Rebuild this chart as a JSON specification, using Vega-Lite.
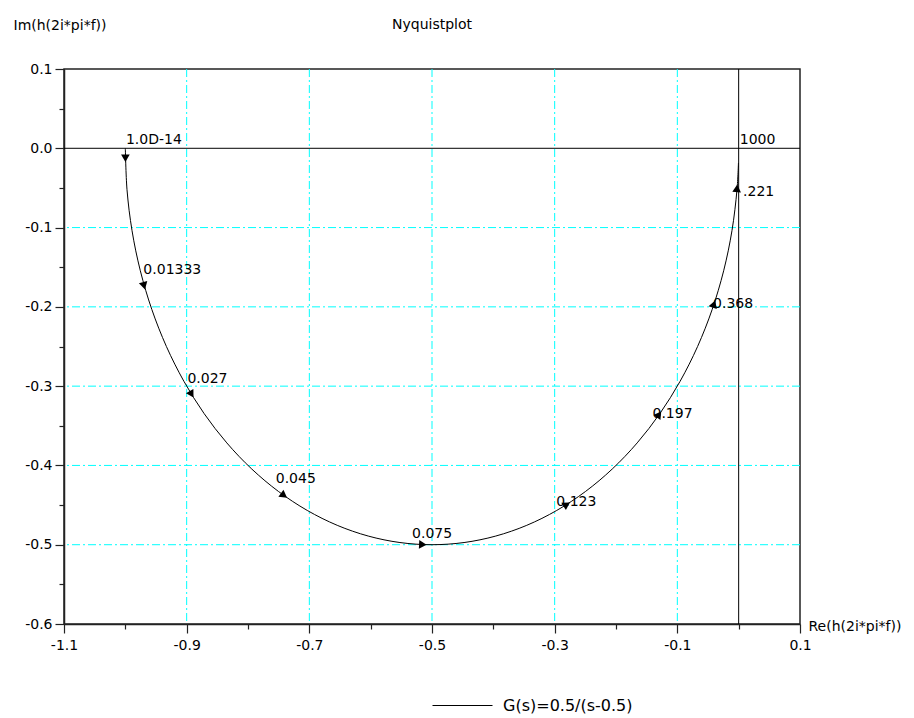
{
  "$schema": "https://vega.github.io/schema/vega-lite/v6.json",
  "width": 736,
  "height": 555,
  "autosize": "none",
  "padding": {"left": 64, "top": 69, "right": 114, "bottom": 94},
  "background": "white",
  "config": {
    "view": {"stroke": "#222222", "strokeWidth": 1.5},
    "font": "DejaVu Sans"
  },
  "title": {
    "text": "Nyquistplot",
    "anchor": "middle",
    "font": "DejaVu Sans",
    "fontSize": 14,
    "fontWeight": "normal",
    "color": "black",
    "baseline": "alphabetic",
    "offset": 0,
    "dy": 25
  },
  "datasets": {
    "curve": [
      {"t": 0, "re": -1.0, "im": 0.0},
      {"t": 6, "re": -0.99726, "im": -0.05226},
      {"t": 12, "re": -0.98907, "im": -0.10396},
      {"t": 18, "re": -0.97553, "im": -0.15451},
      {"t": 24, "re": -0.95677, "im": -0.20337},
      {"t": 30, "re": -0.93301, "im": -0.25},
      {"t": 36, "re": -0.90451, "im": -0.29389},
      {"t": 42, "re": -0.87157, "im": -0.33457},
      {"t": 48, "re": -0.83457, "im": -0.37157},
      {"t": 54, "re": -0.79389, "im": -0.40451},
      {"t": 60, "re": -0.75, "im": -0.43301},
      {"t": 66, "re": -0.70337, "im": -0.45677},
      {"t": 72, "re": -0.65451, "im": -0.47553},
      {"t": 78, "re": -0.60396, "im": -0.48907},
      {"t": 84, "re": -0.55226, "im": -0.49726},
      {"t": 90, "re": -0.5, "im": -0.5},
      {"t": 96, "re": -0.44774, "im": -0.49726},
      {"t": 102, "re": -0.39604, "im": -0.48907},
      {"t": 108, "re": -0.34549, "im": -0.47553},
      {"t": 114, "re": -0.29663, "im": -0.45677},
      {"t": 120, "re": -0.25, "im": -0.43301},
      {"t": 126, "re": -0.20611, "im": -0.40451},
      {"t": 132, "re": -0.16543, "im": -0.37157},
      {"t": 138, "re": -0.12843, "im": -0.33457},
      {"t": 144, "re": -0.09549, "im": -0.29389},
      {"t": 150, "re": -0.06699, "im": -0.25},
      {"t": 156, "re": -0.04323, "im": -0.20337},
      {"t": 162, "re": -0.02447, "im": -0.15451},
      {"t": 168, "re": -0.01093, "im": -0.10396},
      {"t": 174, "re": -0.00274, "im": -0.05226},
      {"t": 177.9, "re": -0.00034, "im": -0.0185}
    ],
    "markers": [
      {"f": "1.0D-14", "re": -0.9999, "im": -0.011, "dir": 180, "lre": -0.999, "lim": 0.0054},
      {"f": "0.01333", "re": -0.970, "im": -0.172, "dir": 165, "lre": -0.9706, "lim": -0.1584},
      {"f": "0.027", "re": -0.893, "im": -0.309, "dir": 149, "lre": -0.8988, "lim": -0.2962},
      {"f": "0.045", "re": -0.743, "im": -0.437, "dir": 126, "lre": -0.7548, "lim": -0.4222},
      {"f": "0.075", "re": -0.517, "im": -0.4997, "dir": 93, "lre": -0.5325, "lim": -0.4916},
      {"f": "0.123", "re": -0.282, "im": -0.450, "dir": 58, "lre": -0.2973, "lim": -0.4517},
      {"f": "0.197", "re": -0.131, "im": -0.337, "dir": 35, "lre": -0.1405, "lim": -0.3396},
      {"f": "0.368", "re": -0.041, "im": -0.198, "dir": 19, "lre": -0.0417, "lim": -0.2017},
      {"f": ".221", "re": -0.003, "im": -0.052, "dir": 5, "lre": 0.0072, "lim": -0.0597}
    ],
    "endlabel": [
      {"f": "1000", "lre": 0.0018, "lim": 0.0054}
    ],
    "vgrid": [{"re": -0.9}, {"re": -0.7}, {"re": -0.5}, {"re": -0.3}, {"re": -0.1}],
    "hgrid": [{"im": -0.1}, {"im": -0.2}, {"im": -0.3}, {"im": -0.4}, {"im": -0.5}],
    "zeroV": [{"re": 0}],
    "zeroH": [{"im": 0}]
  },
  "encoding": {
    "x": {
      "field": "re", "type": "quantitative",
      "scale": {"domain": [-1.1, 0.1], "nice": false, "zero": false},
      "axis": {
        "values": [-1.1, -1.0, -0.9, -0.8, -0.7, -0.6, -0.5, -0.4, -0.3, -0.2, -0.1, 0, 0.1],
        "grid": false,
        "domainColor": "#222222", "domainWidth": 1.5,
        "tickColor": "#222222", "tickWidth": 1.2,
        "tickSize": {"condition": {"test": "abs(round(datum.value*10)) % 2 == 1", "value": 9}, "value": 5},
        "labelExpr": "abs(round(datum.value*10)) % 2 == 1 ? (datum.value < 0 ? '-' : '') + format(abs(datum.value), '.1f') : ''",
        "labelFont": "DejaVu Sans", "labelFontSize": 14, "labelColor": "black",
        "labelPadding": 5, "labelFlush": false, "labelOverlap": false,
        "title": "Re(h(2i*pi*f))",
        "titleFont": "DejaVu Sans", "titleFontSize": 14, "titleFontWeight": "normal", "titleColor": "black",
        "titleX": 744, "titleY": 2, "titleAlign": "left", "titleBaseline": "middle"
      }
    },
    "y": {
      "field": "im", "type": "quantitative",
      "scale": {"domain": [-0.6, 0.1], "nice": false, "zero": false},
      "axis": {
        "values": [0.1, 0.05, 0, -0.05, -0.1, -0.15, -0.2, -0.25, -0.3, -0.35, -0.4, -0.45, -0.5, -0.55, -0.6],
        "grid": false,
        "domainColor": "#222222", "domainWidth": 1.5,
        "tickColor": "#222222", "tickWidth": 1.2,
        "tickSize": {"condition": {"test": "abs(round(datum.value*20)) % 2 == 0", "value": 9}, "value": 5},
        "labelExpr": "abs(round(datum.value*20)) % 2 == 0 ? (datum.value < -0.001 ? '-' : '') + format(abs(datum.value), '.1f') : ''",
        "labelFont": "DejaVu Sans", "labelFontSize": 14, "labelColor": "black",
        "labelPadding": 3, "labelFlush": false, "labelOverlap": false,
        "title": "Im(h(2i*pi*f))",
        "titleFont": "DejaVu Sans", "titleFontSize": 14, "titleFontWeight": "normal", "titleColor": "black",
        "titleAngle": 0, "titleX": -51, "titleY": -40, "titleAlign": "left", "titleBaseline": "alphabetic"
      }
    }
  },
  "layer": [
    {
      "data": {"name": "vgrid"},
      "mark": {"type": "rule", "color": "#00ffff", "strokeWidth": 1, "strokeDash": [8, 3, 2, 3]},
      "encoding": {"y": null}
    },
    {
      "data": {"name": "hgrid"},
      "mark": {"type": "rule", "color": "#00ffff", "strokeWidth": 1, "strokeDash": [8, 3, 2, 3]},
      "encoding": {"x": null}
    },
    {
      "data": {"name": "zeroV"},
      "mark": {"type": "rule", "color": "black", "strokeWidth": 1},
      "encoding": {"y": null}
    },
    {
      "data": {"name": "zeroH"},
      "mark": {"type": "rule", "color": "black", "strokeWidth": 1},
      "encoding": {"x": null}
    },
    {
      "data": {"name": "curve"},
      "mark": {"type": "line", "strokeWidth": 1, "interpolate": "catmull-rom"},
      "encoding": {
        "order": {"field": "t", "type": "quantitative"},
        "color": {
          "datum": "G(s)=0.5/(s-0.5)", "type": "nominal",
          "scale": {"range": ["black"]},
          "legend": {
            "orient": "none", "legendX": 368, "legendY": 606, "title": null,
            "symbolType": "stroke", "symbolSize": 3600, "symbolStrokeWidth": 1,
            "labelFont": "DejaVu Sans", "labelFontSize": 16, "labelColor": "black",
            "labelOffset": 10, "padding": 0
          }
        }
      }
    },
    {
      "data": {"name": "markers"},
      "mark": {"type": "point", "shape": "triangle", "filled": true, "color": "black", "size": 75, "opacity": 1},
      "encoding": {
        "angle": {"field": "dir", "type": "quantitative", "scale": {"domain": [0, 360], "range": [0, 360]}}
      }
    },
    {
      "data": {"name": "markers"},
      "mark": {"type": "text", "align": "left", "baseline": "alphabetic", "font": "DejaVu Sans", "fontSize": 14, "color": "black"},
      "encoding": {
        "x": {"field": "lre", "type": "quantitative"},
        "y": {"field": "lim", "type": "quantitative"},
        "text": {"field": "f", "type": "nominal"}
      }
    },
    {
      "data": {"name": "endlabel"},
      "mark": {"type": "text", "align": "left", "baseline": "alphabetic", "font": "DejaVu Sans", "fontSize": 14, "color": "black"},
      "encoding": {
        "x": {"field": "lre", "type": "quantitative"},
        "y": {"field": "lim", "type": "quantitative"},
        "text": {"field": "f", "type": "nominal"}
      }
    }
  ]
}
